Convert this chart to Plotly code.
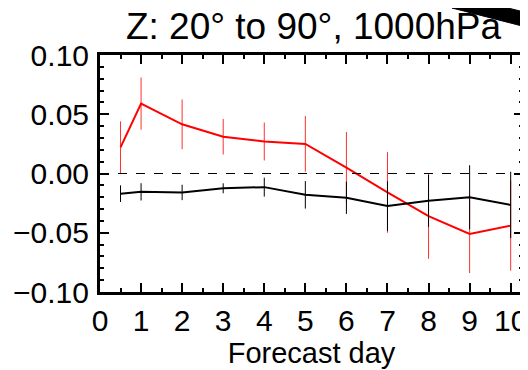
import plotly.graph_objects as go

# forecast days
days = [0.5, 1, 2, 3, 4, 5, 6, 7, 8, 9, 10]

# red series: mean and error half-width
red_mean = [0.022, 0.059, 0.0415, 0.031, 0.027, 0.025, 0.005, -0.016, -0.036, -0.051, -0.044]
red_err = [0.022, 0.022, 0.021, 0.015, 0.016, 0.0235, 0.030, 0.034, 0.036, 0.033, 0.038]

# black series
blk_mean = [-0.017, -0.0155, -0.016, -0.0125, -0.0115, -0.018, -0.0205, -0.0275, -0.023, -0.020, -0.0265]
blk_err = [0.007, 0.0073, 0.0065, 0.0042, 0.008, 0.0116, 0.0136, 0.021, 0.022, 0.027, 0.028]

title_text = "Z: 20° to 90°, 1000hPa"
x_title = "Forecast day"

FONT = "Liberation Sans, Arial, sans-serif"
# page body has an 8px margin, so the figure starts at (8, 8) in the window
OFF = 8
W, H = 528 - OFF, 370 - OFF
L, R, T, B = 100 - OFF, 5, 55 - OFF, 78
PW, PH = W - L - R, H - T - B


def px2paper(x, y):
    # window pixels -> paper coords
    return (x - OFF - L) / PW, (H - B - (y - OFF)) / PH


fig = go.Figure()
fig.add_hline(y=0, line=dict(color="black", width=1, dash="dash"))
fig.add_trace(go.Scatter(
    x=days, y=red_mean, mode="lines",
    line=dict(color="#ff0000", width=2),
    error_y=dict(type="data", array=red_err, color="#ff3030", thickness=1, width=0)))
fig.add_trace(go.Scatter(
    x=days, y=blk_mean, mode="lines",
    line=dict(color="black", width=2),
    error_y=dict(type="data", array=blk_err, color="black", thickness=1, width=0)))

# stray black stroke across the top-right corner (window px corners -> paper)
corners = [(452, 8), (508, 8), (530, 13.5), (530, 28)]
path = "M " + " L ".join("{:.4f},{:.4f}".format(*px2paper(x, y)) for x, y in corners) + " Z"
fig.add_shape(type="path", path=path, xref="paper", yref="paper",
              fillcolor="black", line=dict(color="black", width=1), layer="above")

axis_common = dict(
    showline=True, linewidth=3, linecolor="black", mirror="allticks",
    ticks="inside", tickcolor="black", tickwidth=2, showgrid=False, zeroline=False,
    tickfont=dict(size=30, color="black", family=FONT), automargin=False,
)
fig.update_xaxes(
    **axis_common, range=[0, 10.3], tickmode="linear", tick0=0, dtick=1, ticklen=9,
    minor=dict(ticks="inside", dtick=0.5, ticklen=4, tickwidth=2, tickcolor="black"),
    title=dict(text=x_title, font=dict(size=29, color="black", family=FONT), standoff=0),
    ticklabelstandoff=0,
)
fig.update_yaxes(
    **axis_common, range=[-0.1, 0.1], tickmode="linear", tick0=0, dtick=0.05, ticklen=9,
    tickformat=".2f",
    minor=dict(ticks="inside", dtick=0.01, ticklen=4, tickwidth=2, tickcolor="black"),
    ticklabelstandoff=2,
)
fig.update_layout(
    width=W, height=H, showlegend=False,
    paper_bgcolor="white", plot_bgcolor="white",
    margin=dict(l=L, r=R, t=T, b=B),
    title=dict(text=title_text, x=0.5 + 2 / PW, xref="paper", y=1 - 18 / H, yref="container",
               yanchor="middle", font=dict(size=37, color="black", family=FONT)),
)
fig.write_html("out.html")
